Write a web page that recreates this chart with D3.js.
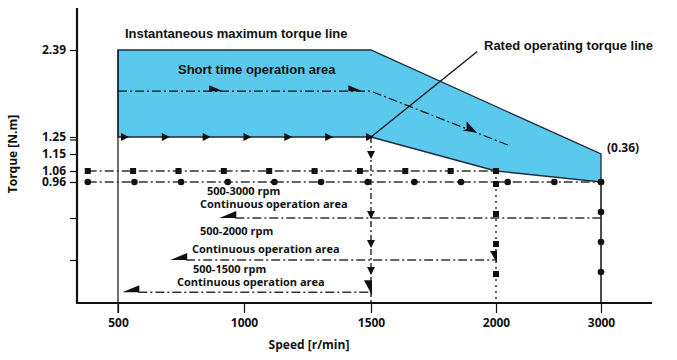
<!DOCTYPE html>
<html><head><meta charset="utf-8">
<script src="https://cdn.jsdelivr.net/npm/d3@7"></script>
<style>body{margin:0;background:#fff} svg{display:block}</style>
</head><body><svg id="c" width="677" height="360"></svg>
<script>
// ---- data ----
const speedTicks = [500, 1000, 1500, 2000, 3000];
const torqueTicks = [0.96, 1.06, 1.15, 1.25, 2.39];
const torqueMinorTicks = [0.4, 0.7];
const maxSpeeds = [500, 1500, 3000];
const maxTorques = [2.39, 2.39, 1.15];
const ratedSpeeds = [500, 1500, 2000, 3000];
const ratedTorques = [1.25, 1.25, 1.06, 0.96];
const shortSpeeds = [500, 1500, 2125];
const shortTorques = [1.85, 1.85, 1.2];
const pointerSpeeds = [1500, 1925];
const pointerTorques = [1.25, 2.37];
const limitTorques = [1.06, 0.96];
const limitSpeedStart = [380, 380];
const limitSpeedEnd = [2000, 3000];
const areaLabels = ["500-3000 rpm", "500-2000 rpm", "500-1500 rpm"];
const areaTorques = [0.7, 0.4, 0.1];
const areaSpeedStart = [910, 715, 525];
const areaSpeedEnd = [3000, 2000, 1500];
const endLabel = "(0.36)";

// ---- scales ----
const svg = d3.select("#c");
const x = d3.scaleLinear().domain(speedTicks).range([118, 244, 371, 496, 601]);
const y = d3.scaleLinear().domain([0, 0.4, 0.7, 0.96, 1.06, 1.15, 1.25, 2.39])
  .range([303, 260, 218, 182, 171, 154, 137, 50]);
const X0 = 77, Y0 = y(0);
const ink = "#111", gray = "#333";
const DD = "9,3,2,3";
const tickFont = "'Open Sans', sans-serif";
const boldFont = "'Liberation Sans', Arial, sans-serif";

// blue area
const areaPts = maxSpeeds.map((s, i) => [x(s), y(maxTorques[i])])
  .concat(ratedSpeeds.slice().reverse().map((s, i) => [x(s), y(ratedTorques[ratedTorques.length - 1 - i])]));
svg.append("path").attr("d", "M" + areaPts.join("L") + "Z")
  .attr("fill", "#5BC8EE").attr("stroke", "#1c2b3a").attr("stroke-width", 1.3);

// vertical line at 500
svg.append("line").attr("x1", x(500)).attr("x2", x(500)).attr("y1", y(2.39)).attr("y2", Y0 + 10)
  .attr("stroke", ink).attr("stroke-width", 1.2);

// axes
const ya = svg.append("g").attr("transform", `translate(${X0},0)`)
  .call(d3.axisLeft(y).tickValues(torqueTicks).tickSize(7).tickPadding(4).tickFormat(d3.format(".2f")));
ya.select(".domain").remove();
ya.selectAll("line").attr("stroke", ink).attr("stroke-width", 1.2);
ya.selectAll("text").attr("font-family", tickFont).attr("font-weight", 700).attr("font-size", 12).attr("fill", ink);
const ym = svg.append("g").attr("transform", `translate(${X0},0)`)
  .call(d3.axisLeft(y).tickValues(torqueMinorTicks).tickSize(7).tickFormat(""));
ym.select(".domain").remove();
ym.selectAll("line").attr("stroke", ink).attr("stroke-width", 1.2);
svg.append("line").attr("x1", X0 - 7).attr("x2", X0).attr("y1", y(1.25) + 3).attr("y2", y(1.25) + 3)
  .attr("stroke", ink).attr("stroke-width", 1.2);

const xa = svg.append("g").attr("transform", `translate(0,${Y0})`)
  .call(d3.axisBottom(x).tickValues(speedTicks).tickSize(10).tickPadding(5).tickFormat(d3.format("d")));
xa.select(".domain").remove();
xa.selectAll("line").attr("stroke", ink).attr("stroke-width", 1.2);
xa.selectAll("text").attr("font-family", tickFont).attr("font-weight", 700).attr("font-size", 12).attr("fill", ink);

svg.append("line").attr("x1", X0).attr("x2", X0).attr("y1", 8).attr("y2", Y0 + 1).attr("stroke", ink).attr("stroke-width", 2.2);
svg.append("line").attr("x1", X0 - 1).attr("x2", 652).attr("y1", Y0).attr("y2", Y0).attr("stroke", ink).attr("stroke-width", 2.2);

// axis titles
svg.append("text").attr("transform", `translate(17,${y(1.15)}) rotate(-90)`).attr("text-anchor", "middle")
  .attr("font-family", tickFont).attr("font-weight", 700).attr("font-size", 12).attr("fill", ink).text("Torque [N.m]");
svg.append("text").attr("x", 309).attr("y", 349).attr("text-anchor", "middle")
  .attr("font-family", tickFont).attr("font-weight", 700).attr("font-size", 12).attr("fill", ink).text("Speed [r/min]");

const line = d3.line();

// rated torque line (1.25) with right arrows
const rx0 = x(500), rx1 = x(1500), ry = y(1.25);
d3.range(7).forEach(k => {
  const cx = rx0 + 8 + k * (rx1 - rx0 - 8) / 6;
  svg.append("path").attr("d", `M${cx - 5},${ry - 4}L${cx + 3},${ry}L${cx - 5},${ry + 4}Z`).attr("fill", ink);
});

// short-time dash-dot line
const sp = shortSpeeds.map((s, i) => [x(s), y(shortTorques[i])]);
svg.append("path").attr("d", line(sp)).attr("fill", "none").attr("stroke", ink).attr("stroke-width", 1.2).attr("stroke-dasharray", DD);
[0.4, 0.95].forEach(f => {
  const cx = sp[0][0] + f * (sp[1][0] - sp[0][0]) - 10, cy = sp[0][1];
  svg.append("path").attr("d", `M${cx},${cy - 6}L${cx},${cy}L${cx + 14},${cy}Z`).attr("fill", ink);
});
{
  const f = 0.72, ax = sp[1][0] + f * (sp[2][0] - sp[1][0]), ay = sp[1][1] + f * (sp[2][1] - sp[1][1]);
  const ang = Math.atan2(sp[2][1] - sp[1][1], sp[2][0] - sp[1][0]) * 180 / Math.PI;
  svg.append("path").attr("d", "M7,0L-7,-7L-4,0L-7,3Z").attr("transform", `translate(${ax},${ay}) rotate(${ang})`).attr("fill", ink);
}

// pointer to rated operating torque line
svg.append("path").attr("d", line(pointerSpeeds.map((s, i) => [x(s), y(pointerTorques[i])])))
  .attr("stroke", ink).attr("stroke-width", 1.3).attr("fill", "none");

// continuous limit lines (1.06 squares, 0.96 circles)
limitTorques.forEach((t, i) => {
  const xa0 = x(limitSpeedStart[i]), xa1 = x(limitSpeedEnd[i]), yy = y(t);
  svg.append("line").attr("x1", xa0).attr("x2", xa1).attr("y1", yy).attr("y2", yy)
    .attr("stroke", gray).attr("stroke-width", 1.4).attr("stroke-dasharray", DD);
  const n = i === 0 ? 10 : 12;
  d3.range(n).forEach(k => {
    const cx = xa0 + k * (xa1 - xa0) / (n - 1);
    if (i === 0) svg.append("rect").attr("x", cx - 3).attr("y", yy - 3).attr("width", 6).attr("height", 6).attr("fill", ink);
    else svg.append("circle").attr("cx", cx).attr("cy", yy).attr("r", 3.3).attr("fill", ink);
  });
});

// verticals
// 1500 dash-dot with down arrows
{
  const vx = x(1500), v0 = y(1.25);
  svg.append("line").attr("x1", vx).attr("x2", vx).attr("y1", v0).attr("y2", Y0).attr("stroke", ink).attr("stroke-width", 1.3).attr("stroke-dasharray", "6,3,2,3");
  [v0 + 18, y(0.7) - 3, y(0.7) + 26, y(0.4) + 11].forEach(cy => {
    svg.append("path").attr("d", `M${vx - 4},${cy - 4}L${vx + 4},${cy - 4}L${vx},${cy + 4}Z`).attr("fill", ink);
  });
  const wy = y(0.1);
  svg.append("path").attr("d", `M${vx - 7},${wy - 12}L${vx + 1},${wy - 12}L${vx + 1},${wy + 3}Z`).attr("fill", ink);
}
// 2000 dotted with squares
{
  const vx = x(2000), v0 = y(1.06);
  svg.append("line").attr("x1", vx).attr("x2", vx).attr("y1", v0).attr("y2", Y0).attr("stroke", ink).attr("stroke-width", 1.3).attr("stroke-dasharray", "2,4");
  d3.range(4).forEach(k => {
    const cy = y(0.96) + 2 + k * 30;
    svg.append("rect").attr("x", vx - 3).attr("y", cy - 3).attr("width", 6).attr("height", 6).attr("fill", ink);
  });
  const wy = y(0.4);
  svg.append("path").attr("d", `M${vx - 6},${wy - 9}L${vx + 1},${wy - 9}L${vx + 1},${wy + 3}Z`).attr("fill", ink);
}
// 3000 solid with circles
{
  const vx = x(3000), v0 = y(0.96);
  svg.append("line").attr("x1", vx).attr("x2", vx).attr("y1", v0).attr("y2", Y0).attr("stroke", ink).attr("stroke-width", 1.5);
  d3.range(4).forEach(k => svg.append("circle").attr("cx", vx).attr("cy", v0 + k * 30).attr("r", 3.3).attr("fill", ink));
}

// continuous operation area lines and labels
const labelDy = [[-27, -14], [-29, -11], [-23, -10]];
const labelX = [[207, 200], [200, 192], [193, 177]];
areaTorques.forEach((t, i) => {
  const xa0 = x(areaSpeedStart[i]), xa1 = x(areaSpeedEnd[i]), yy = y(t);
  svg.append("line").attr("x1", xa0 + 14).attr("x2", xa1).attr("y1", yy).attr("y2", yy)
    .attr("stroke", gray).attr("stroke-width", 1.4).attr("stroke-dasharray", DD);
  svg.append("path").attr("d", `M${xa0 - 2},${yy}L${xa0 + 15},${yy}L${xa0 + 15},${yy - 7}Z`).attr("fill", ink);
  svg.append("text").attr("x", labelX[i][0]).attr("y", yy + labelDy[i][0]).attr("dy", "0.35em")
    .attr("font-family", tickFont).attr("font-weight", 700).attr("font-size", 11).attr("fill", ink).text(areaLabels[i]);
  svg.append("text").attr("x", labelX[i][1]).attr("y", yy + labelDy[i][1]).attr("dy", "0.35em")
    .attr("font-family", tickFont).attr("font-weight", 700).attr("font-size", 11).attr("fill", ink).text("Continuous operation area");
});

// titles
svg.append("text").attr("x", 125).attr("y", 33).attr("dy", "0.35em").attr("font-family", boldFont).attr("font-weight", 700)
  .attr("font-size", 13).attr("fill", ink).text("Instantaneous maximum torque line");
svg.append("text").attr("x", 178).attr("y", 69).attr("dy", "0.35em").attr("font-family", boldFont).attr("font-weight", 700)
  .attr("font-size", 13).attr("fill", ink).text("Short time operation area");
svg.append("text").attr("x", 484).attr("y", 45).attr("dy", "0.35em").attr("font-family", boldFont).attr("font-weight", 700)
  .attr("font-size", 13).attr("fill", ink).text("Rated operating torque line");
svg.append("text").attr("x", x(3000) + 6).attr("y", y(1.15) - 6).attr("dy", "0.35em").attr("font-family", tickFont).attr("font-weight", 700)
  .attr("font-size", 12).attr("fill", ink).text(endLabel);
</script></body></html>
